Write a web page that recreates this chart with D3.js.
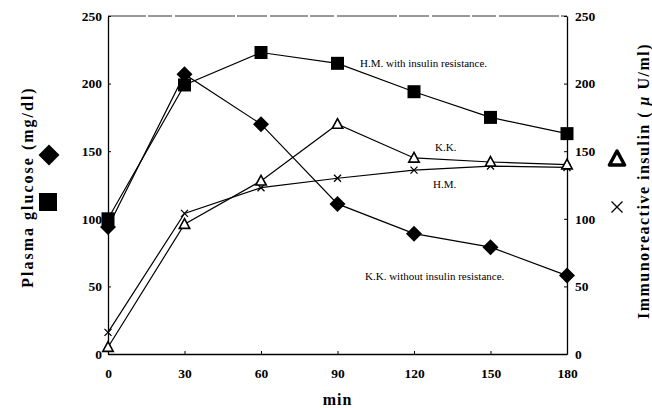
<!DOCTYPE html>
<html>
<head>
<meta charset="utf-8">
<script src="https://cdn.jsdelivr.net/npm/d3@7"></script>
<style>
  body { margin: 0; background: #fff; }
  svg { display: block; font-family: "Liberation Serif", "DejaVu Serif", serif; }
</style>
</head>
<body>
<svg id="canvas" width="652" height="408"></svg>
<script>
// minutes after load
const minutes = [0, 30, 60, 90, 120, 150, 180];
// plasma glucose (mg/dl), left axis
const glucoseKK = [94, 207, 170, 111, 89, 79, 58];    // K.K. without insulin resistance (diamond)
const glucoseHM = [100, 199, 223, 215, 194, 175, 163]; // H.M. with insulin resistance (square)
// immunoreactive insulin (uU/ml), right axis
const insulinKK = [5, 96, 128, 170, 145, 142, 140];    // K.K. (open triangle)
const insulinHM = [16, 104, 123, 130, 136, 139, 138];  // H.M. (cross)

const xTicks = [0, 30, 60, 90, 120, 150, 180];
const yTicks = [0, 50, 100, 150, 200, 250];

let canvas = d3.select("#canvas");

let x = d3.scaleLinear().domain([0, 180]).range([108, 567]);
let yLeft = d3.scaleLinear().domain([0, 250]).range([354, 16]);
let yRight = d3.scaleLinear().domain([0, 250]).range([354, 16]);

// frame: dashed top edge from the scan
canvas.append("line")
  .attr("x1", x(0)).attr("x2", x(180))
  .attr("y1", yLeft(250)).attr("y2", yLeft(250))
  .attr("stroke", "#333").attr("stroke-width", 1)
  .attr("stroke-dasharray", "38 2 24 3 60 2 30 3");

// axes
let bottomAxis = d3.axisBottom(x).tickValues(xTicks).tickSizeInner(-3).tickSizeOuter(0).tickPadding(14);
let leftAxis = d3.axisLeft(yLeft).tickValues(yTicks).tickSizeInner(-3).tickSizeOuter(0).tickPadding(6);
let rightAxis = d3.axisRight(yRight).tickValues(yTicks).tickSizeInner(-3).tickSizeOuter(0).tickPadding(8);

let styleAxis = (g) => {
  g.select(".domain").attr("stroke", "#000").attr("stroke-width", 1.3);
  g.selectAll(".tick line").attr("stroke", "#000");
  g.selectAll(".tick text")
    .attr("fill", "#000")
    .attr("font-size", 13.5)
    .attr("font-weight", "bold")
    .attr("font-family", "Liberation Serif, serif");
};

canvas.append("g").attr("transform", `translate(0,${yLeft(0)})`).call(bottomAxis).call(styleAxis);
canvas.append("g").attr("transform", `translate(${x(0)},0)`).call(leftAxis).call(styleAxis);
canvas.append("g").attr("transform", `translate(${x(180)},0)`).call(rightAxis).call(styleAxis);

// lines
let makeLine = (scale) => d3.line().x((d, i) => x(minutes[i])).y((d) => scale(d));

let series = [
  { values: insulinHM, scale: yRight },
  { values: insulinKK, scale: yRight },
  { values: glucoseKK, scale: yLeft },
  { values: glucoseHM, scale: yLeft }
];

series.forEach((s) => {
  canvas.append("path")
    .datum(s.values)
    .attr("d", makeLine(s.scale))
    .attr("fill", "none")
    .attr("stroke", "#000")
    .attr("stroke-width", 1.2);
});

// marker paths
let diamondPath = (r) => `M0,${-r}L${r},0L0,${r}L${-r},0Z`;
let trianglePath = (r) => `M0,${-r}L${r * 0.95},${r * 0.75}L${-r * 0.95},${r * 0.75}Z`;
let crossPath = (r) => `M${-r},${-r}L${r},${r}M${r},${-r}L${-r},${r}`;

// crosses
canvas.selectAll(".cross")
  .data(insulinHM)
  .enter()
  .append("path")
  .attr("class", "cross")
  .attr("transform", (d, i) => `translate(${x(minutes[i])},${yRight(d)})`)
  .attr("d", crossPath(3.5))
  .attr("stroke", "#000")
  .attr("stroke-width", 1.3)
  .attr("fill", "none");

// open triangles
canvas.selectAll(".tri")
  .data(insulinKK)
  .enter()
  .append("path")
  .attr("class", "tri")
  .attr("transform", (d, i) => `translate(${x(minutes[i])},${yRight(d)})`)
  .attr("d", trianglePath(5.5))
  .attr("stroke", "#000")
  .attr("stroke-width", 1.6)
  .attr("fill", "#fff");

// diamonds
canvas.selectAll(".diamond")
  .data(glucoseKK)
  .enter()
  .append("path")
  .attr("class", "diamond")
  .attr("transform", (d, i) => `translate(${x(minutes[i])},${yLeft(d)})`)
  .attr("d", diamondPath(8))
  .attr("fill", "#000");

// squares
canvas.selectAll(".square")
  .data(glucoseHM)
  .enter()
  .append("rect")
  .attr("class", "square")
  .attr("x", (d, i) => x(minutes[i]) - 6.5)
  .attr("y", (d) => yLeft(d) - 6.5)
  .attr("width", 13)
  .attr("height", 13)
  .attr("fill", "#000");

// series annotations
let notes = [
  { text: "H.M. with insulin resistance.", x: 360, y: 63 },
  { text: "K.K.", x: 435, y: 147 },
  { text: "H.M.", x: 433, y: 184 },
  { text: "K.K. without insulin resistance.", x: 365, y: 276 }
];

canvas.selectAll(".note")
  .data(notes)
  .enter()
  .append("text")
  .attr("class", "note")
  .attr("x", (d) => d.x)
  .attr("y", (d) => d.y)
  .attr("dominant-baseline", "central")
  .attr("font-size", 11)
  .text((d) => d.text);

// axis titles
canvas.append("text")
  .attr("x", x(90))
  .attr("y", 405)
  .attr("text-anchor", "middle")
  .attr("font-size", 16)
  .attr("font-weight", "bold")
  .attr("letter-spacing", 1)
  .text("min");

canvas.append("text")
  .attr("transform", "translate(27,187) rotate(-90)")
  .attr("text-anchor", "middle")
  .attr("dominant-baseline", "central")
  .attr("font-size", 16)
  .attr("font-weight", "bold")
  .attr("letter-spacing", 2)
  .text("Plasma glucose (mg/dl)");

let rightTitle = canvas.append("text")
  .attr("transform", "translate(643,181) rotate(-90)")
  .attr("text-anchor", "middle")
  .attr("dominant-baseline", "central")
  .attr("font-size", 16)
  .attr("font-weight", "bold")
  .attr("letter-spacing", 1.5);
rightTitle.append("tspan").text("Immunoreactive insulin ( ");
rightTitle.append("tspan").attr("font-style", "italic").text("μ");
rightTitle.append("tspan").text(" U/ml)");

// legend markers beside the axis titles
canvas.append("path")
  .attr("transform", "translate(49,155)")
  .attr("d", diamondPath(10.5))
  .attr("fill", "#000");

canvas.append("rect")
  .attr("x", 39).attr("y", 193)
  .attr("width", 18).attr("height", 18)
  .attr("fill", "#000");

canvas.append("path")
  .attr("transform", "translate(617,159)")
  .attr("d", trianglePath(8))
  .attr("stroke", "#000")
  .attr("stroke-width", 3.5)
  .attr("stroke-linejoin", "round")
  .attr("fill", "#fff");

canvas.append("path")
  .attr("transform", "translate(617,207)")
  .attr("d", crossPath(5.5))
  .attr("stroke", "#000")
  .attr("stroke-width", 1.3)
  .attr("fill", "none");
</script>
</body>
</html>
